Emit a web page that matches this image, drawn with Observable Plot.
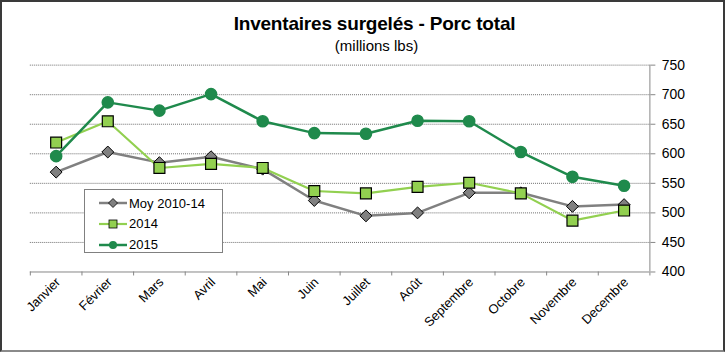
<!DOCTYPE html>
<html>
<head>
<meta charset="utf-8">
<script src="https://cdn.jsdelivr.net/npm/d3@7"></script>
<script src="https://cdn.jsdelivr.net/npm/@observablehq/plot@0.6"></script>
<style>
  html, body { margin: 0; padding: 0; background: #fff; }
  #wrap { position: relative; width: 725px; height: 352px; box-sizing: border-box;
          border: 2px solid #3a3a3a; border-bottom-color: #8a8a8a; overflow: hidden;
          font-family: "Liberation Sans", Arial, sans-serif; }
  #chart { position: absolute; left: -2px; top: -2px; }
  #title { position: absolute; left: 10px; width: 725px; top: 11px; text-align: center;
           font-weight: bold; font-size: 19px; color: #000; letter-spacing: -0.2px; }
  #subtitle { position: absolute; left: 12px; width: 725px; top: 35px; text-align: center;
           font-size: 15px; color: #000; }
  #legend { position: absolute; left: 82px; top: 187px; width: 137px; height: 62px;
            border: 1px solid #808080; background: #fff; font-size: 13px; }
  .item { position: absolute; left: 14px; height: 20px; display: flex; align-items: center; }
  .item svg { margin-right: 1px; }
</style>
</head>
<body>
<div id="wrap">
  <div id="chart"></div>
  <div id="title">Inventaires surgelés - Porc total</div>
  <div id="subtitle">(millions lbs)</div>
  <div id="legend"></div>
</div>
<script>
const months = ["Janvier","Février","Mars","Avril","Mai","Juin","Juillet","Août","Septembre","Octobre","Novembre","Decembre"];
const moy   = [569, 603, 585, 595, 574, 521, 495, 500, 534, 534, 511, 514];
const y2014 = [619, 655, 576, 583, 576, 537, 533, 544, 551, 533, 487, 504];
const y2015 = [596, 687, 673, 701, 655, 635, 634, 656, 655, 603, 561, 546];
const yTicks = [400, 450, 500, 550, 600, 650, 700, 750];
const seriesNames = ["Moy 2010-14", "2014", "2015"];

const colors = { moy: "#808080", s2014: "#92d050", s2015: "#1f8a4c" };

const rows = (vals) => vals.map((v, i) => ({ i: i + 0.5, v, m: months[i] }));
const dMoy = rows(moy), d2014 = rows(y2014), d2015 = rows(y2015);

const chart = Plot.plot({
  width: 727, height: 354,
  marginLeft: 30, marginRight: 74, marginTop: 65, marginBottom: 81,
  style: { fontFamily: "Liberation Sans, Arial, sans-serif", fontSize: "14px", color: "#000", background: "transparent" },
  x: { domain: [0, 12], axis: null },
  y: { domain: [400, 750], axis: null, label: null },
  marks: [
    Plot.gridY(yTicks.slice(1), { stroke: "#6e6e6e", strokeOpacity: 1, strokeDasharray: "1,1" }),
    Plot.ruleY([400], { stroke: "#868686", strokeWidth: 1 }),
    Plot.ruleX([12], { stroke: "#868686", strokeWidth: 1 }),
    Plot.axisX(d3.range(13), { anchor: "bottom", tickSize: 4, tickFormat: () => "", stroke: "#868686", label: null }),
    Plot.axisY(yTicks, { anchor: "right", tickSize: 5, tickPadding: 7, stroke: "#868686", fontSize: 14, label: null }),
    Plot.text(dMoy, { x: "i", text: "m", frameAnchor: "bottom", rotate: -45, textAnchor: "end", dx: 5, dy: 11, fontSize: 13 }),
    Plot.line(dMoy, { x: "i", y: "v", stroke: colors.moy, strokeWidth: 2.5 }),
    Plot.dot(dMoy, { x: "i", y: "v", symbol: "diamond2", r: 5.4, fill: colors.moy, stroke: "#000", strokeWidth: 1 }),
    Plot.line(d2014, { x: "i", y: "v", stroke: colors.s2014, strokeWidth: 2.2 }),
    Plot.dot(d2014, { x: "i", y: "v", symbol: "square2", r: 7, fill: colors.s2014, stroke: "#000", strokeWidth: 1.2 }),
    Plot.line(d2015, { x: "i", y: "v", stroke: colors.s2015, strokeWidth: 2.5 }),
    Plot.dot(d2015, { x: "i", y: "v", r: 5.6, fill: colors.s2015, stroke: colors.s2015 })
  ]
});
document.getElementById("chart").appendChild(chart);

// legend
const legend = document.getElementById("legend");
const sym = {
  "Moy 2010-14": `<line x1="0" y1="8" x2="28" y2="8" stroke="${colors.moy}" stroke-width="2.5"/><path d="M14,3.5L18.5,8L14,12.5L9.5,8Z" fill="${colors.moy}" stroke="#000" stroke-width="0.8"/>`,
  "2014": `<line x1="0" y1="8" x2="28" y2="8" stroke="${colors.s2014}" stroke-width="2.2"/><rect x="10" y="4" width="8" height="8" fill="${colors.s2014}" stroke="#000" stroke-width="0.8"/>`,
  "2015": `<line x1="0" y1="8" x2="28" y2="8" stroke="${colors.s2015}" stroke-width="2.5"/><circle cx="14" cy="8" r="4" fill="${colors.s2015}"/>`
};
seriesNames.forEach((name, k) => {
  const div = document.createElement("div");
  div.className = "item";
  div.style.top = (3 + k * 20.8) + "px";
  div.innerHTML = `<svg width="29" height="16">${sym[name]}</svg><span>${name}</span>`;
  legend.appendChild(div);
});
</script>
</body>
</html>
